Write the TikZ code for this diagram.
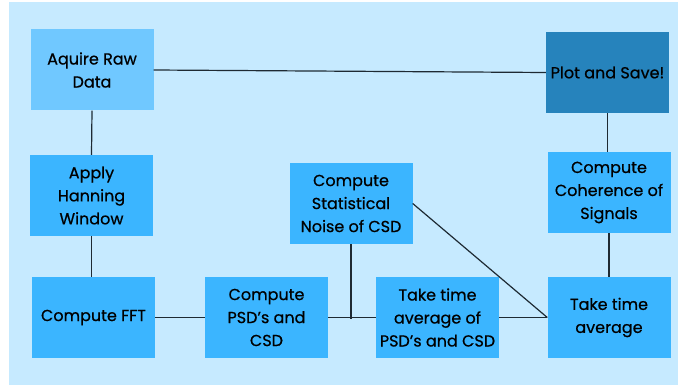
\documentclass[tikz,border=0pt]{standalone}
\usepackage{fontspec}
\setmainfont{Poppins}[FakeBold=0.6]
\definecolor{bgc}{HTML}{C6EAFF}
\definecolor{boxc}{HTML}{3BB5FF}
\definecolor{lightc}{HTML}{70C8FF}
\definecolor{darkc}{HTML}{2683BC}
\definecolor{linec}{HTML}{1E2A33}
\newcommand{\apos}{\char"0027\relax}
\begin{document}
\begin{tikzpicture}[x=1pt,y=-1pt,
  box/.style={fill=boxc,draw=none,inner sep=0pt,minimum width=123pt,minimum height=81pt,
    align=center,font=\fontsize{16}{23}\selectfont,text=black},
  conn/.style={draw=linec,line width=1.2pt}]
\useasboundingbox (0,0) rectangle (678,385);
\fill[bgc] (9,2) rectangle (678,385);
\node[box,fill=lightc] (raw) at (92,70) {Aquire Raw\\Data};
\node[box,fill=darkc] (plot) at (607.5,72.5) {Plot and Save!};
\node[box] (han) at (91.5,195.5) {Apply\\Hanning\\Window};
\node[box] (fft) at (93.5,317.5) {Compute FFT};
\node[box] (psd) at (266.5,317.5) {Compute\\PSD\apos s and\\CSD};
\node[box] (noise) at (351,203.5) {Compute\\Statistical\\Noise of CSD};
\node[box] (tavgpsd) at (437.5,317.5) {Take time\\average of\\PSD\apos s and CSD};
\node[box] (tavg) at (609,317.5) {Take time\\average};
\node[box] (coh) at (609,192.5) {Compute\\Coherence of\\Signals};
\coordinate (j) at (351,318.5);
\draw[conn] (raw.east) -- (plot.west);
\draw[conn] (raw.south) -- (han.north);
\draw[conn] (han.south) -- (fft.north -| han.south);
\draw[conn] (fft.east) -- (psd.west);
\draw[conn] (psd.east) -- (tavgpsd.west);
\draw[conn] (noise.south) -- (j);
\draw[conn] (noise.east) -- (tavg.west);
\draw[conn] (tavgpsd.east) -- (tavg.west);
\draw[conn] (coh.south) -- (tavg.north);
\draw[conn] (plot.south) -- (plot.south |- coh.north);
\end{tikzpicture}
\end{document}
